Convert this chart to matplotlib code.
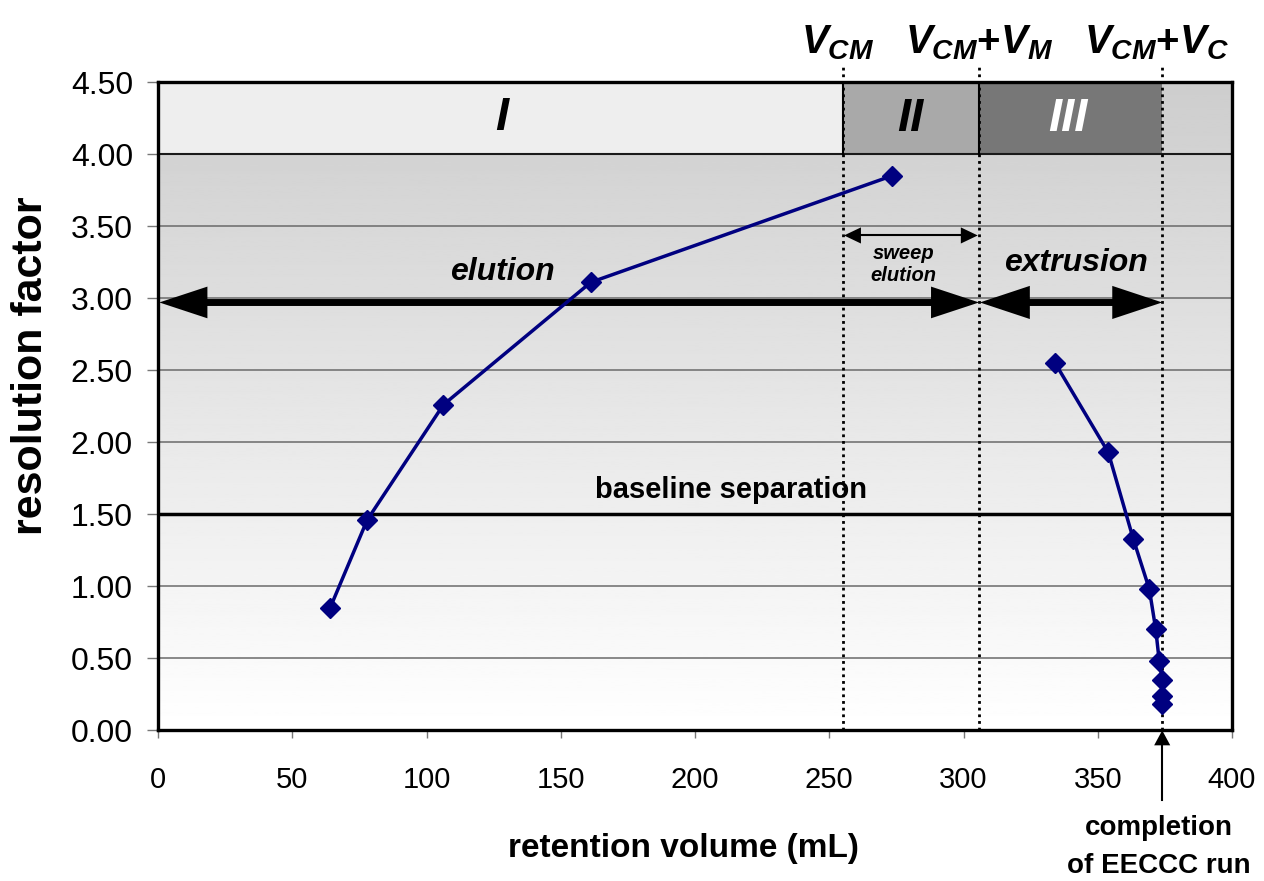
import numpy as np
import matplotlib
matplotlib.use("Agg")
import matplotlib.pyplot as plt

# ---- data ----
elution_x = [64.1, 77.9, 106.3, 161.2, 273.5]
elution_y = [0.85, 1.46, 2.26, 3.11, 3.85]
extrusion_x = [334.1, 353.9, 363.2, 369.2, 371.6, 372.9, 374.0, 374.0, 374.0]
extrusion_y = [2.55, 1.93, 1.33, 0.98, 0.70, 0.48, 0.35, 0.24, 0.18]

x_ticks = [0, 50, 100, 150, 200, 250, 300, 350, 400]
y_ticks = [0.0, 0.5, 1.0, 1.5, 2.0, 2.5, 3.0, 3.5, 4.0, 4.5]

v_cm = 255.0
v_cm_vm = 305.8
v_cm_vc = 374.0
baseline_rs = 1.5

plt.rcParams['font.family'] = ['Liberation Sans', 'DejaVu Sans']
plt.rcParams['mathtext.fontset'] = 'custom'
plt.rcParams['mathtext.it'] = 'Liberation Sans:bold:italic'
plt.rcParams['mathtext.rm'] = 'Liberation Sans:bold'
plt.rcParams['mathtext.bf'] = 'Liberation Sans:bold'

fig = plt.figure(figsize=(12.64, 8.81), dpi=100)
ax = fig.add_axes([0.125, 0.171, 0.8497, 0.7359])
ax.set_xlim(0, 400)
ax.set_ylim(0, 4.5)
ax.patch.set_visible(False)

# gradient background
grad = np.linspace(1.0, 0.805, 256).reshape(-1, 1)
ax.imshow(grad, extent=[0, 400, 0, 4.5], origin='lower', aspect='auto',
          cmap='gray', vmin=0, vmax=1, zorder=0)

# gridlines
for yv in y_ticks[1:-1]:
    ax.axhline(yv, color='#6a6a6a', lw=1.1, zorder=1)

# top region bands
band_y0, band_y1 = 4.0, 4.5
ax.fill_between([0, v_cm], band_y0, band_y1, color='#eeeeee', zorder=2, lw=0)
ax.fill_between([v_cm, v_cm_vm], band_y0, band_y1, color='#a9a9a9', zorder=2, lw=0)
ax.fill_between([v_cm_vm, v_cm_vc], band_y0, band_y1, color='#777777', zorder=2, lw=0)
ax.axhline(band_y0, color='#1a1a1a', lw=1.5, zorder=3)
ax.plot([v_cm, v_cm], [band_y0, band_y1], color='black', lw=1.5, zorder=3)
ax.plot([v_cm_vm, v_cm_vm], [band_y0, band_y1], color='black', lw=1.5, zorder=3)

ax.text(128.2, 4.25, 'I', fontsize=34, fontweight='bold', fontstyle='italic',
        ha='center', va='center', zorder=4)
ax.text(280.0, 4.24, 'II', fontsize=34, fontweight='bold', fontstyle='italic',
        ha='center', va='center', zorder=4)
ax.text(338.9, 4.24, 'III', fontsize=34, fontweight='bold', fontstyle='italic',
        ha='center', va='center', color='white', zorder=4)

# dotted vertical markers
for xv in [v_cm, v_cm_vm, v_cm_vc]:
    ax.plot([xv, xv], [0, 4.62], color='black', lw=2, ls=(0, (1, 1.4)),
            zorder=5, clip_on=False)

ax.text(253.0, 4.70, r'$V_{CM}$', fontsize=29, ha='center', va='baseline')
ax.text(305.8, 4.70, r'$V_{CM}\mathrm{+}V_{M}$', fontsize=29, ha='center', va='baseline')
ax.text(371.9, 4.70, r'$V_{CM}\mathrm{+}V_{C}$', fontsize=29, ha='center', va='baseline')

# baseline separation
ax.axhline(baseline_rs, color='black', lw=2.5, zorder=3)
ax.text(213.4, 1.67, 'baseline separation', fontsize=21, fontweight='bold',
        ha='center', va='center', zorder=4)


def double_arrow(x0, x1, y, hl, hw, lw):
    ax.plot([x0 + hl * 0.9, x1 - hl * 0.9], [y, y], color='black', lw=lw,
            solid_capstyle='butt', zorder=6, clip_on=False)
    ax.fill([x0, x0 + hl, x0 + hl], [y, y + hw, y - hw], color='black',
            lw=0, zorder=6, clip_on=False)
    ax.fill([x1, x1 - hl, x1 - hl], [y, y + hw, y - hw], color='black',
            lw=0, zorder=6, clip_on=False)


double_arrow(0.5, v_cm_vm, 2.97, 17.9, 0.11, 5)
double_arrow(v_cm_vm + 0.3, v_cm_vc, 2.97, 18.6, 0.115, 5)
double_arrow(v_cm + 0.5, v_cm_vm - 0.5, 3.435, 6.3, 0.056, 1.5)

ax.text(128.1, 3.18, 'elution', fontsize=23, fontweight='bold', fontstyle='italic',
        ha='center', va='center', zorder=4)
ax.text(341.7, 3.245, 'extrusion', fontsize=23, fontweight='bold', fontstyle='italic',
        ha='center', va='center', zorder=4)
ax.text(277.6, 3.31, 'sweep', fontsize=14.5, fontweight='bold', fontstyle='italic',
        ha='center', va='center', zorder=4)
ax.text(277.6, 3.16, 'elution', fontsize=14.5, fontweight='bold', fontstyle='italic',
        ha='center', va='center', zorder=4)

# data series
style = dict(color='#000080', lw=2.5, marker='D', ms=10.5, mfc='#000080',
             mec='#000080', zorder=7, clip_on=False)
ax.plot(elution_x, elution_y, **style)
ax.plot(extrusion_x, extrusion_y, **style)

# completion arrow
ax.plot([v_cm_vc, v_cm_vc], [-0.48, -0.09], color='black', lw=1.5, clip_on=False, zorder=9)
ax.fill([v_cm_vc, v_cm_vc - 3.0, v_cm_vc + 3.0], [0.0, -0.104, -0.104], color='black',
        lw=0, clip_on=False, zorder=9)
ax.text(v_cm_vc - 1.3, -0.725, 'completion', fontsize=20, fontweight='bold',
        ha='center', va='baseline')
ax.text(v_cm_vc - 1.3, -0.99, 'of EECCC run', fontsize=20, fontweight='bold',
        ha='center', va='baseline')

# axes styling
for s in ax.spines.values():
    s.set_linewidth(2.4)
    s.set_color('black')
    s.set_zorder(8)
ax.set_xticks(x_ticks)
ax.set_yticks(y_ticks)
ax.set_yticklabels([f'{v:.2f}' for v in y_ticks])
ax.tick_params(axis='x', direction='out', length=6, width=1, color='#777777',
               labelsize=21, pad=20)
ax.tick_params(axis='y', direction='out', length=8, width=1, color='#777777',
               labelsize=23, pad=10)

ax.set_xlabel('retention volume (mL)', fontsize=24, fontweight='bold')
ax.xaxis.set_label_coords(0.489, -0.158)
ax.set_ylabel('resolution factor', fontsize=31, fontweight='bold', va='center')
ax.yaxis.set_label_coords(-0.118, 0.563)

fig.savefig('out.png', dpi=100)
